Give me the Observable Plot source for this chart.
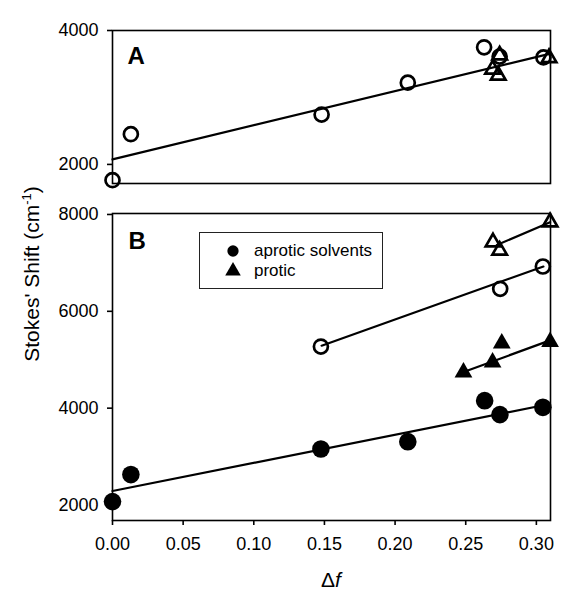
<!DOCTYPE html>
<html>
<head>
<meta charset="utf-8">
<script src="https://cdn.jsdelivr.net/npm/d3@7"></script>
<script src="https://cdn.jsdelivr.net/npm/@observablehq/plot@0.6"></script>
<style>
  body { margin: 0; background: #fff; }
  #fig { position: relative; width: 572px; height: 602px; font-family: "Liberation Sans", Arial, Helvetica, sans-serif; color: #000; }
  #fig svg.plot { position: absolute; left: 0; }
  .ylab { position: absolute; left: 32px; top: 274px; transform: translate(-50%, -50%) rotate(-90deg); white-space: nowrap; font-size: 21px; }
  .ylab sup { font-size: 0.62em; vertical-align: 0.6em; line-height: 0; }
  .xlab { position: absolute; left: 331px; top: 568px; transform: translateX(-50%); font-size: 21px; white-space: nowrap; }
  .legend { position: absolute; left: 199px; top: 232px; width: 184px; height: 57px; box-sizing: border-box; border: 1.5px solid #222; background: #fff; font-size: 17px; }
  .legend .row { position: absolute; left: 0; height: 20px; line-height: 20px; white-space: nowrap; }
  .legend svg { position: absolute; left: 24px; top: 0; }
  .legend span { position: absolute; left: 54px; top: 0; }
</style>
</head>
<body>
<div id="fig"></div>
<script>
// ---------- data ----------
// Panel A
const aOpenCircles   = [[0.000, 1765], [0.013, 2452], [0.148, 2744], [0.209, 3221], [0.263, 3749], [0.274, 3610], [0.305, 3598]];
const aOpenTriangles = [[0.269, 3420], [0.273, 3330], [0.274, 3630], [0.309, 3590]];
const aFit           = [[0.000, 2075], [0.310, 3655]];
const aYTicks        = [2000, 4000];

// Panel B
const bAprotic       = [[0.000, 2070], [0.013, 2628], [0.1475, 3157], [0.209, 3308], [0.2634, 4155], [0.2742, 3866], [0.3046, 4017]];
const bProtic        = [[0.2484, 4740], [0.269, 4947], [0.2755, 5340], [0.3097, 5370]];
const bOpenCircles   = [[0.1475, 5272], [0.2744, 6464], [0.3046, 6925]];
const bOpenTriangles = [[0.2693, 7427], [0.274, 7256], [0.3097, 7841]];
const bFitAprotic    = [[0.000, 2290], [0.305, 4060]];
const bFitProtic     = [[0.248, 4740], [0.3097, 5400]];
const bFitOpenCirc   = [[0.148, 5290], [0.305, 6925]];
const bFitOpenTri    = [[0.272, 7370], [0.3097, 7840]];
const bYTicks        = [2000, 4000, 6000, 8000];

const xTicks = [0.00, 0.05, 0.10, 0.15, 0.20, 0.25, 0.30];
const xDomain = [0, 0.31];
const panelLabels = ["A", "B"];
const legendLabels = ["aprotic solvents", "protic"];
const yLabel = "Stokes' Shift (cm";
const yLabelSup = "-1";

// ---------- drawing ----------
const FONT = '"Liberation Sans", Arial, Helvetica, sans-serif';
const px = d => d[0], py = d => d[1];
const style = {fontFamily: FONT, fontSize: "18px", color: "black", background: "transparent", overflow: "visible"};
const LW = 2.2, MW = 2.7;

const plotA = Plot.plot({
  width: 572, height: 200,
  marginLeft: 112, marginRight: 22, marginTop: 30, marginBottom: 17,
  x: {domain: xDomain, axis: null},
  y: {domain: [1715, 4000]},
  style,
  marks: [
    Plot.frame({stroke: "black", strokeWidth: 1.6}),
    Plot.axisY(aYTicks, {tickSize: 5, tickPadding: 9, tickFormat: "d", label: null, fontSize: 18, strokeWidth: 1.6}),
    Plot.line(aFit, {x: px, y: py, stroke: "black", strokeWidth: LW}),
    Plot.dot(aOpenCircles, {x: px, y: py, r: 7, stroke: "black", strokeWidth: MW, fill: "none"}),
    Plot.dot(aOpenTriangles, {x: px, y: py, symbol: "triangle", r: 5.4, stroke: "black", strokeWidth: MW, fill: "none"}),
    Plot.text([panelLabels[0]], {frameAnchor: "top-left", dx: 15, dy: 16, fontWeight: "bold", fontSize: 24})
  ]
});

const plotB = Plot.plot({
  width: 572, height: 402,
  marginLeft: 112, marginRight: 22, marginTop: 13, marginBottom: 82,
  x: {domain: xDomain},
  y: {domain: [1680, 8020]},
  style,
  marks: [
    Plot.frame({stroke: "black", strokeWidth: 1.6}),
    Plot.axisY(bYTicks, {tickSize: 5, tickPadding: 9, tickFormat: "d", label: null, fontSize: 18, strokeWidth: 1.6}),
    Plot.axisX(xTicks, {tickSize: 5, tickPadding: 12, tickFormat: d3.format(".2f"), label: null, fontSize: 18, strokeWidth: 1.6}),
    Plot.line(bFitAprotic, {x: px, y: py, stroke: "black", strokeWidth: LW}),
    Plot.line(bFitProtic, {x: px, y: py, stroke: "black", strokeWidth: LW}),
    Plot.line(bFitOpenCirc, {x: px, y: py, stroke: "black", strokeWidth: LW}),
    Plot.line(bFitOpenTri, {x: px, y: py, stroke: "black", strokeWidth: LW}),
    Plot.dot(bAprotic, {x: px, y: py, r: 8.8, fill: "black", stroke: "none"}),
    Plot.dot(bProtic, {x: px, y: py, symbol: "triangle", r: 6.6, fill: "black", stroke: "none"}),
    Plot.dot(bOpenCircles, {x: px, y: py, r: 7, stroke: "black", strokeWidth: MW, fill: "none"}),
    Plot.dot(bOpenTriangles, {x: px, y: py, symbol: "triangle", r: 5.4, stroke: "black", strokeWidth: MW, fill: "none"}),
    Plot.text([panelLabels[1]], {frameAnchor: "top-left", dx: 16, dy: 18, fontWeight: "bold", fontSize: 24})
  ]
});

const fig = document.getElementById("fig");
plotA.style.top = "0px";
plotB.style.top = "200px";
plotA.classList.add("plot");
plotB.classList.add("plot");
fig.appendChild(plotA);
fig.appendChild(plotB);

// y label spanning both panels
const yl = document.createElement("div");
yl.className = "ylab";
yl.textContent = yLabel;
const sup = document.createElement("sup");
sup.textContent = yLabelSup;
yl.appendChild(sup);
yl.appendChild(document.createTextNode(")"));
fig.appendChild(yl);

// x label
const xl = document.createElement("div");
xl.className = "xlab";
xl.innerHTML = "\u0394<i>f</i>";
fig.appendChild(xl);

// legend
const lg = document.createElement("div");
lg.className = "legend";
const sym = [d3.symbolCircle, d3.symbolTriangle];
const symSize = [100, 105];
legendLabels.forEach((lab, i) => {
  const row = document.createElement("div");
  row.className = "row";
  row.style.top = (9 + i * 20) - 1.5 + "px";
  row.style.width = "100%";
  const s = d3.create("svg").attr("width", 20).attr("height", 20);
  s.append("path").attr("transform", "translate(9,10)").attr("d", d3.symbol(sym[i], symSize[i])()).attr("fill", "black");
  row.appendChild(s.node());
  const t = document.createElement("span");
  t.textContent = lab;
  row.appendChild(t);
  lg.appendChild(row);
});
fig.appendChild(lg);
</script>
</body>
</html>
